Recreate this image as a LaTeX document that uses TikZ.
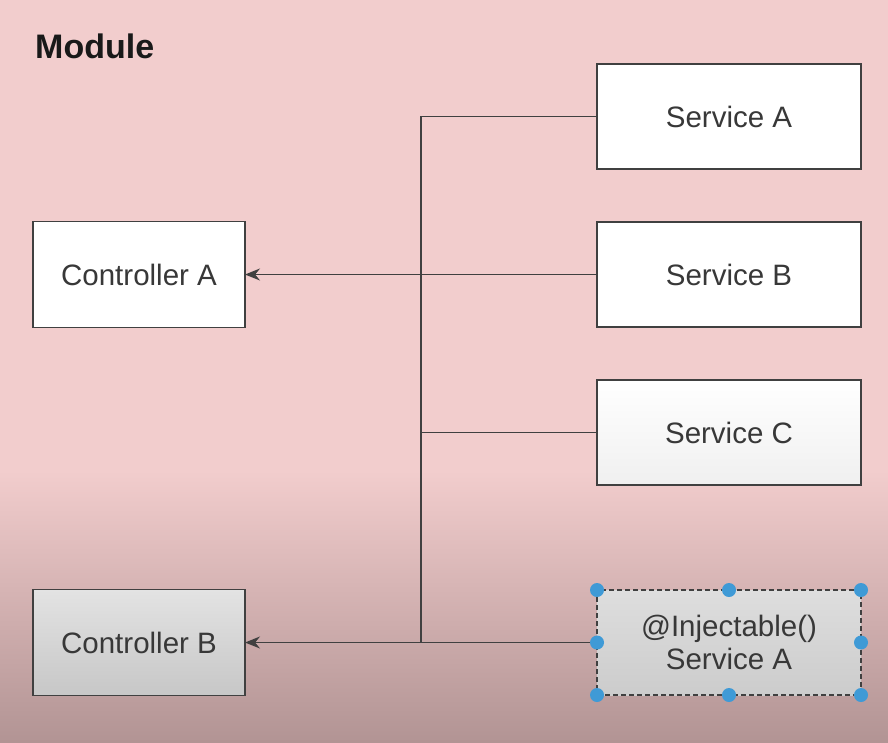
\documentclass[tikz,border=0pt]{standalone}
\usepackage{fontspec}
\setmainfont{Liberation Sans}
\usepackage{tikz}
\usetikzlibrary{arrows.meta}
\usetikzlibrary{positioning}
\usepackage{xcolor}
\definecolor{mybg}{HTML}{F2CDCD}
\definecolor{mybgdark}{HTML}{B29494}
\definecolor{myline}{HTML}{404040}
\definecolor{mytext}{HTML}{383838}
\definecolor{myhandle}{HTML}{3F9AD6}
\tikzset{node distance=53pt, every text node part/.style={align=center, font={\fontsize{29.5}{33}\selectfont}, text=mytext}}
\tikzstyle{block} = [draw=myline, fill=white, line width=1.2pt, inner sep=0pt, outer sep=0pt, minimum width=264pt, minimum height=105pt]
\tikzstyle{ctrl} = [block, minimum width=212pt, minimum height=106pt]
\tikzstyle{ln} = [draw=myline, line width=1.4pt]
\tikzstyle{arr} = [ln, arrows={-Stealth[length=15pt, width=12pt]}]
\tikzstyle{handle} = [fill=myhandle]
\begin{document}
\begin{tikzpicture}[x=1pt, y=1pt]
  % background
  \useasboundingbox (0,0) rectangle (888,-742);
  \fill[mybg] (0,0) rectangle (888,-470);
  \shade[top color=mybg, bottom color=mybgdark] (0,-470) rectangle (888,-742);
  \node[anchor=base west, inner sep=0pt] (module) at (35,-58) {\fontsize{34}{38}\selectfont\bfseries\color{black!90}Module};
  % services
  \node[block] (svc-a) at (729,-116.5) {Service A};
  \node[block, below=of svc-a] (svc-b) {Service B};
  \node[block, below=of svc-b, top color=white, bottom color=black!6] (svc-c) {Service C};
  \node[block, below=105pt of svc-c, dash pattern=on 5pt off 3pt, top color=black!13, bottom color=black!20] (svc-inj) {@Injectable()\\Service A};
  % controllers
  \node[ctrl, left=352pt of svc-b] (ctrl-a) {Controller A};
  \node[ctrl, left=352pt of svc-inj, top color=black!11, bottom color=black!22] (ctrl-b) {Controller B};
  % bus
  \coordinate (bus) at (421,0);
  \path[ln] (svc-a.west) -| (bus |- svc-inj.west);
  \path[ln] (svc-c.west) -- (svc-c.west -| bus);
  \path[arr] (svc-b.west) -- (ctrl-a.east);
  \path[arr] (svc-inj.west) -- (ctrl-b.east);
  % selection handles
  \foreach \pos in {north west, north, north east, west, east, south west, south, south east}
    \fill[handle] (svc-inj.\pos) circle (7pt);
\end{tikzpicture}
\end{document}
